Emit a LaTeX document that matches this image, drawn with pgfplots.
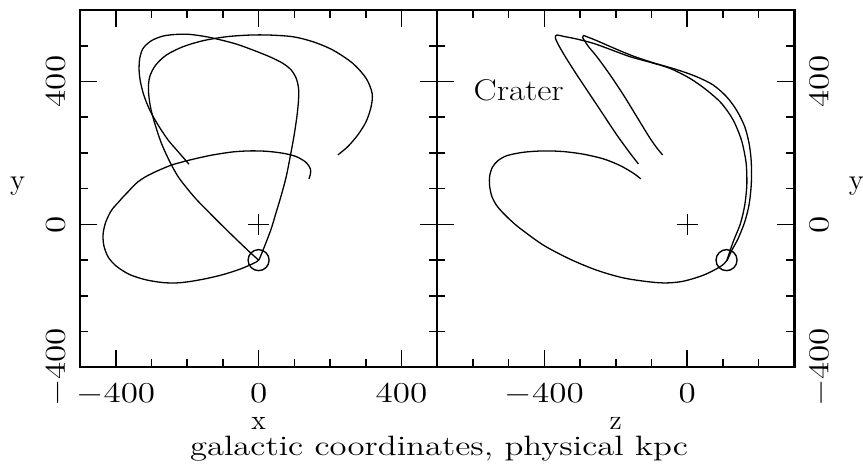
\documentclass[border=0pt]{standalone}
\usepackage{graphicx}
\usepackage{pgfplots}
\pgfplotsset{compat=1.18}

% common look of the two orbit panels
\pgfplotsset{
  orbitpanel/.style={
    scale only axis, width=178.6pt, height=178.6pt,
    ymin=-400, ymax=600,
    ytick={-400,0,400},
    minor ytick={-300,-200,-100,100,200,300,500},
    axis line style={line width=1.1pt},
    every tick/.style={black, line width=0.8pt},
    major tick length=8.5pt, minor tick length=4pt,
    tick align=inside,
    xtick pos=both, ytick pos=both,
    xticklabel pos=lower,
    tick label style={font=\fontsize{13.5}{13.5}\selectfont, inner sep=0pt},
    xticklabel={\scalebox{1.22}[1]{$\pgfmathprintnumber{\tick}$}},
    yticklabel={\scalebox{1.22}[1]{$\pgfmathprintnumber{\tick}$}},
    xticklabel style={anchor=north}, xticklabel shift=8.1pt,
    xlabel style={font=\fontsize{14}{14}\selectfont, inner sep=0pt,
      at={(axis description cs:0.5,0)}, anchor=base, yshift=-31pt},
  },
  centremark/.style={only marks, mark=+, mark size=5.2pt, mark options={line width=0.7pt, black}},
  nowmark/.style={only marks, mark=o, mark size=5.25pt, mark options={line width=0.7pt, black}},
}

\begin{document}
\begin{tikzpicture}

% ---------------- x--y plane ----------------
\begin{axis}[orbitpanel,
  at={(0pt,0pt)}, anchor=south west,
  xmin=-500, xmax=500,
  xtick={-400,0,400},
  minor xtick={-300,-200,-100,100,200,300},
  yticklabel pos=left,
  yticklabel style={rotate=90, anchor=base}, yticklabel shift=7.5pt,
  xlabel={x},
]
% lower loop, through the present position, then the upper-left arc
\addplot[black, line width=0.65pt, smooth, tension=0.5] coordinates {
(140.7,127.5) (144.5,138.7) (145.4,154.5) (133.3,173.2) (105.3,189.9)
(68,199.3) (21.4,204.8) (-25.2,205.8) (-71.8,203) (-127.7,194.6)
(-183.6,182.5) (-239.5,167.6) (-268,156.5) (-295.4,144.3) (-318,132.5)
(-337.4,119.5) (-352,106) (-365.3,91.5) (-377,79.5)
(-388.6,66.4) (-411.9,39.4) (-427.8,6.8) (-435.2,-25.8) (-433.4,-58.5)
(-421.2,-91.1) (-397.9,-117.2) (-360.7,-140.5) (-314.1,-155.4) (-267.5,-162.8)
(-230.2,-163.8) (-192.9,-160) (-146.3,-151.6) (-99.7,-140.5) (-53.1,-125.6)
(-15.8,-109.7) (0,-100)
(10.3,-77.1) (21.4,-49.1) (35.4,-11.9) (49.4,34.7) (63.4,81.3)
(77.4,134) (88.5,189.9) (98.8,245.9) (107.2,301.8) (111.8,348.4)
(111.8,381) (105.3,408.9) (91.3,432.2) (68,450.9) (30.8,469.5)
(-15.8,488.2) (-62.4,504.9) (-104.4,516.1) (-146.3,525.4) (-192.9,532)
(-230.2,532) (-267.5,527.3) (-300.1,514.3) (-323.4,492.8) (-332.7,464.9)
(-334.6,432.2) (-330.8,399.6) (-321.5,362.4) (-304.8,320.4) (-281.5,278.5)
(-253.5,236.5) (-225.5,203.9) (-194.8,168.5)
};
% branch to the upper-right arc
\addplot[black, line width=0.65pt, smooth, tension=0.5] coordinates {
(0,-100) (-25.2,-77.1) (-62.4,-41.7) (-99.7,-5.3) (-137,32)
(-174.3,70.2) (-202,103) (-225.5,134) (-248.8,175.9) (-272.1,227.2)
(-290.8,283.1) (-302.9,329.7) (-308.5,376.3) (-304.8,413.6) (-288,446.2)
(-258.2,474.2) (-211.6,497.5) (-155.6,514.3) (-90.4,525.4) (-25.2,530.1)
(30.8,530.1) (96,525.4) (151.9,511.5) (207.8,488.2) (263.7,450.9)
(301,408.9) (317.8,367) (315,329.7) (301,287.8) (277.7,250.5)
(249.8,217.9) (221.8,194.6)
};
\addplot[centremark] coordinates {(0,0)};
\addplot[nowmark] coordinates {(0,-100)};
\end{axis}

% ---------------- z--y plane ----------------
\begin{axis}[orbitpanel,
  at={(178.6pt,0pt)}, anchor=south west,
  xmin=-700, xmax=300,
  xtick={-400,0},
  minor xtick={-600,-500,-300,-200,-100,100,200},
  yticklabel pos=right,
  yticklabel style={rotate=90, anchor=north}, yticklabel shift=7.5pt,
  xlabel={z},
]
% lower loop, present position, outer arc and second finger
\addplot[black, line width=0.65pt, smooth, tension=0.5] coordinates {
(-130.2,127.5) (-150.7,143.3) (-187.9,164.8) (-234.4,183.4) (-290.2,196.5)
(-346,203.9) (-401.9,205.8) (-457.7,202.1) (-504.2,192.7) (-530,178.5)
(-545.5,160) (-553,136) (-553.5,110) (-547.5,80) (-535,55) (-518.1,34.7)
(-495,12) (-467,-11.9)
(-401.9,-58.5) (-327.4,-97.6) (-253,-128.3) (-178.6,-149.8) (-104.2,-161)
(-57.7,-163.8) (-11.2,-159.1) (44.7,-142.3) (91.2,-119) (110.7,-101.3)
(125,-72) (142.3,-39.8) (160.9,6.8) (173,55) (178.8,105)
(180,145) (178.5,185) (173,227.2) (160.9,273.8) (137.7,320.4) (109.8,357.7)
(72.6,390.3) (26,413.6) (-29.8,433.5) (-94.9,452.5) (-150.7,471)
(-206.5,494) (-253,514.3) (-280.9,525.4) (-290.5,528.8) (-293,523.8)
(-287.4,514.3) (-276.3,497.5) (-253,469.5) (-215.8,418.3) (-178.6,362.4)
(-141.4,301.8) (-104.2,241.2) (-80.9,208.6) (-68.8,194.6)
};
% inner arc and first finger
\addplot[black, line width=0.65pt, smooth, tension=0.5] coordinates {
(110.7,-101.3) (128.4,-49.1) (148.8,2.1) (160.9,53.4) (166.5,104.6)
(166.5,145) (163.7,180.6) (151.6,236.5) (128.4,292.5) (95.8,339) (54,376.3)
(7.4,408.9) (-48.4,436.9) (-104.2,454) (-160,469.5) (-215.8,490)
(-262.3,506.8) (-308.8,518.9) (-346,526.4) (-364.7,530.1) (-369.3,523.6)
(-362.8,506.8) (-341.4,469.5) (-308.8,418.3) (-271.6,362.4) (-234.4,306.4)
(-197.2,250.5) (-160,199.3) (-136.7,169.4)
};
\addplot[centremark] coordinates {(0,0)};
\addplot[nowmark] coordinates {(110,-100)};
\node[anchor=base west, inner sep=0pt, font=\fontsize{15}{15}\selectfont]
  at (axis cs:-599,348) {\resizebox{45pt}{\height}{Crater}};
\end{axis}

% shared labels
\node[anchor=base, inner sep=0pt, font=\fontsize{14.5}{14.5}\selectfont] at (-31.25pt,89pt) {y};
\node[anchor=base, inner sep=0pt, font=\fontsize{14.5}{14.5}\selectfont] at (388.2pt,89pt) {y};
\node[anchor=base, inner sep=0pt, font=\fontsize{14}{14}\selectfont] at (179.5pt,-44.3pt)
  {\resizebox{249pt}{\height}{galactic coordinates, physical kpc}};

\pgfresetboundingbox
\path[use as bounding box] (-40pt,-49.85pt) rectangle (391.5pt,183.65pt);
\end{tikzpicture}
\end{document}
